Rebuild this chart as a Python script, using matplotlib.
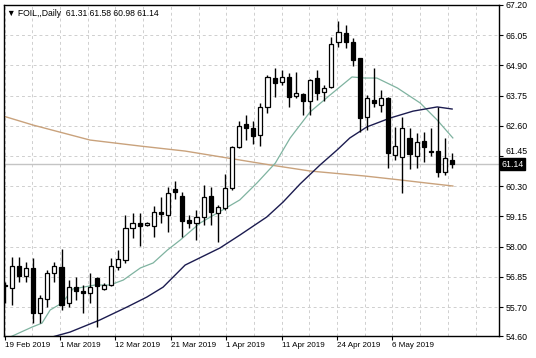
import matplotlib.pyplot as plt
import numpy as np

# daily candles, 19 Feb 2019 onwards
opens = [56.55, 56.41, 57.27, 56.88, 57.20, 55.49, 56.02, 56.99, 57.24, 55.84,
         56.45, 56.32, 56.22, 56.81, 56.38, 56.54, 57.24, 57.49, 58.72, 58.89,
         58.84, 58.79, 59.33, 59.21, 60.20, 59.93, 59.01, 58.89, 59.12, 59.93,
         59.29, 59.46, 60.22, 61.81, 62.67, 62.51, 62.25, 63.33, 64.41, 64.28,
         64.47, 63.75, 63.81, 63.55, 64.43, 63.88, 64.09, 65.78, 66.12, 65.80,
         65.17, 62.92, 63.58, 63.39, 63.65, 61.49, 61.42, 62.12, 61.45, 62.02,
         61.65, 61.64, 60.85, 61.31]
highs = [56.65, 57.62, 57.62, 57.43, 57.56, 56.16, 57.11, 57.43, 57.90, 56.73,
         56.83, 56.54, 56.98, 56.86, 56.63, 57.56, 57.87, 59.21, 59.29, 59.27,
         58.95, 59.55, 59.88, 60.28, 60.50, 60.10, 59.21, 59.40, 60.35, 60.26,
         59.59, 60.77, 61.85, 62.79, 63.01, 62.79, 63.46, 64.54, 64.79, 64.73,
         64.60, 64.66, 63.84, 64.40, 64.73, 64.15, 65.99, 66.59, 66.44, 65.93,
         65.20, 63.77, 64.79, 63.96, 63.70, 62.57, 62.95, 62.51, 62.31, 62.38,
         62.51, 63.33, 62.12, 61.58]
lows = [55.85, 55.78, 56.67, 56.67, 55.11, 55.08, 55.71, 56.67, 55.59, 55.71,
        55.97, 55.46, 55.84, 54.95, 56.35, 56.50, 57.11, 57.39, 58.32, 58.03,
        58.78, 58.38, 58.89, 58.57, 59.81, 58.38, 58.70, 58.25, 58.82, 58.82,
        58.19, 59.40, 60.15, 61.74, 62.06, 61.91, 61.83, 63.08, 63.71, 64.15,
        63.33, 63.65, 63.01, 63.01, 63.58, 63.55, 64.03, 65.61, 65.55, 64.89,
        62.38, 62.44, 63.33, 63.14, 60.98, 61.30, 60.03, 60.94, 60.98, 61.23,
        61.45, 60.66, 60.73, 60.98]
closes = [56.50, 57.27, 56.88, 57.20, 55.46, 56.03, 57.01, 57.27, 55.78, 56.45,
          56.32, 56.22, 56.45, 56.50, 56.54, 57.26, 57.52, 58.70, 58.89, 58.79,
          58.89, 59.33, 59.24, 60.03, 60.08, 58.99, 58.91, 59.14, 59.88, 59.33,
          59.50, 60.22, 61.81, 62.59, 62.51, 62.21, 63.31, 64.45, 64.24, 64.47,
          63.71, 63.84, 63.55, 64.34, 63.86, 64.05, 65.70, 66.18, 65.78, 65.11,
          62.89, 63.65, 63.46, 63.65, 61.58, 61.83, 62.51, 61.53, 61.99, 61.81,
          61.60, 60.83, 61.36, 61.14]

# moving averages, sampled along the lines (bar position, price)
ma_fast_x = [0.75, 3.85, 5.25, 6.4, 8.1, 9.6, 12.7, 14.8, 16.7, 19.1, 20.9, 22.9,
             24.7, 27.5, 30.7, 33.1, 35.5, 38.1, 40.2, 43.0, 45.8, 48.9, 50.7,
             52.4, 55.3, 58.5, 60.9, 63.1]
ma_fast_y = [54.56, 54.94, 55.09, 55.59, 55.86, 56.39, 56.54, 56.54, 56.73, 57.19,
             57.38, 57.87, 58.25, 58.90, 59.40, 59.78, 60.42, 61.18, 62.14, 63.13,
             63.77, 64.46, 64.42, 64.42, 64.04, 63.47, 62.82, 62.14]
ma_mid_x = [6.66, 9.2, 13.4, 17.2, 20.0, 22.3, 25.4, 30.3, 33.1, 36.9, 39.2, 41.6,
            44.4, 46.8, 48.6, 51.0, 54.3, 57.5, 60.9, 63.0]
ma_mid_y = [54.56, 54.75, 55.21, 55.70, 56.08, 56.46, 57.30, 57.95, 58.44, 59.13,
            59.70, 60.39, 61.11, 61.68, 62.14, 62.56, 62.90, 63.16, 63.32, 63.24]
ma_slow_x = [-0.66, 3.99, 12.0, 19.1, 25.4, 33.1, 37.4, 43.0, 50.7, 55.7, 59.5, 63.1]
ma_slow_y = [63.01, 62.63, 62.06, 61.83, 61.64, 61.30, 61.11, 60.88, 60.69, 60.54,
             60.42, 60.31]

date_labels = ["19 Feb 2019", "1 Mar 2019", "12 Mar 2019", "21 Mar 2019",
               "1 Apr 2019", "11 Apr 2019", "24 Apr 2019", "6 May 2019"]
price_ticks = [67.20, 66.05, 64.90, 63.75, 62.60, 61.45, 60.30, 59.15, 58.00,
               56.85, 55.70]
y_bottom = 54.60
last_price = 61.14

plt.rcParams["font.family"] = "Liberation Sans"
fs = 5.8
fs_y = 6.3
fig = plt.figure(figsize=(5.36, 3.58), dpi=100)
ax = fig.add_axes([4 / 536, 22 / 358, 495 / 536, 331 / 358])

x = np.arange(len(opens))
o = np.array(opens)
c = np.array(closes)
up = c >= o
body_lo = np.minimum(o, c)
body_h = np.maximum(np.abs(c - o), 0.03)

grid_kw = dict(color="#cfcfcf", linestyle=(0, (3, 3)), linewidth=0.7, zorder=0)
for gx in np.arange(0, 70, 3.9):
    ax.axvline(gx, **grid_kw)
for gy in price_ticks:
    ax.axhline(gy, **grid_kw)

ax.axhline(last_price, color="#c4c4c4", linewidth=1.0, zorder=1)

ax.plot(ma_slow_x, ma_slow_y, color="#c9a27c", linewidth=1.0, zorder=2)
ax.plot(ma_fast_x, ma_fast_y, color="#7fb3a0", linewidth=0.9, zorder=2)
ax.plot(ma_mid_x, ma_mid_y, color="#1c1c50", linewidth=1.0, zorder=2)

ax.vlines(x, lows, highs, color="black", linewidth=1.0, zorder=3)
ax.bar(x[up], body_h[up], bottom=body_lo[up], width=0.58, color="white",
       edgecolor="black", linewidth=0.9, zorder=4)
ax.bar(x[~up], body_h[~up], bottom=body_lo[~up], width=0.58, color="black",
       edgecolor="black", linewidth=0.9, zorder=4)

ax.set_xlim(-0.1, 69.6)
ax.set_ylim(y_bottom, 67.20)

ax.set_xticks(np.arange(len(date_labels)) * 7.8)
ax.set_xticklabels(date_labels, ha="left", fontsize=fs)
ax.yaxis.tick_right()
ax.set_yticks(price_ticks + [y_bottom])
ax.set_yticklabels([f"{v:.2f}" for v in price_ticks + [y_bottom]], fontsize=fs_y)
ax.tick_params(axis="both", length=3, width=0.8, pad=1.5, colors="black")
for lbl in ax.get_yticklabels():
    if lbl.get_text() == "61.45":
        lbl.set_va("bottom")
for s in ax.spines.values():
    s.set_linewidth(1.0)

ax.text(1.005, last_price, f"{last_price:.2f}", transform=ax.get_yaxis_transform(),
        fontsize=fs_y, color="white", va="center", ha="left",
        bbox=dict(boxstyle="square,pad=0.15", facecolor="black", edgecolor="black"))

ax.text(0.006, 0.988, "\u25bc FOIL,,Daily  61.31 61.58 60.98 61.14",
        transform=ax.transAxes, fontsize=6.2, va="top", ha="left")

fig.savefig("out.png", dpi=100)
